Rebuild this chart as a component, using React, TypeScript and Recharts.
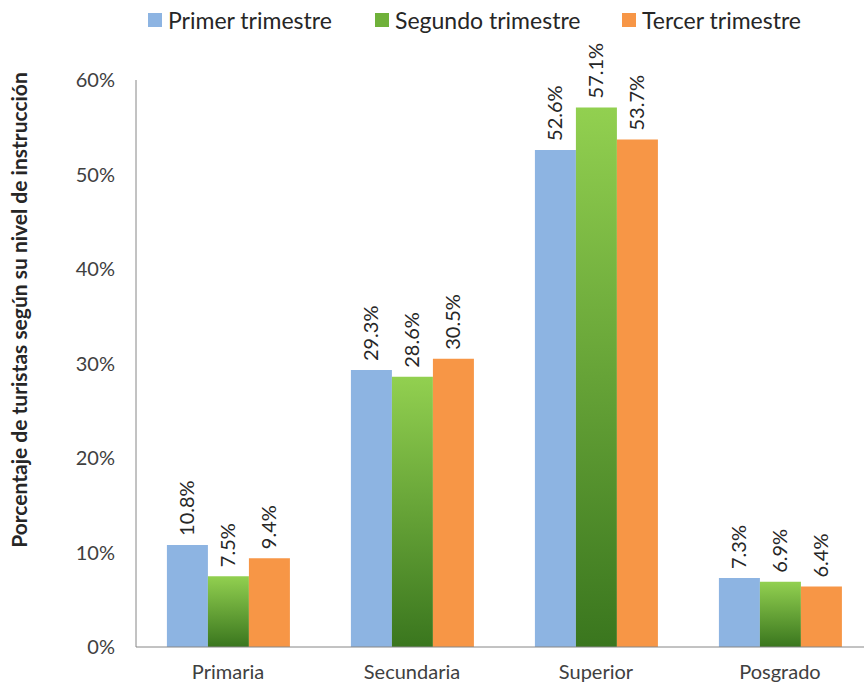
import { Bar, BarChart, XAxis, YAxis, LabelList } from "recharts";

const categories = ["Primaria", "Secundaria", "Superior", "Posgrado"];
const primer = [10.8, 29.3, 52.6, 7.3];
const segundo = [7.5, 28.6, 57.1, 6.9];
const tercer = [9.4, 30.5, 53.7, 6.4];
const yTicks = [0, 10, 20, 30, 40, 50, 60];

const series = [
  { key: "primer", name: "Primer trimestre", color: "#8DB4E2", swatch: "#8DB4E2" },
  { key: "segundo", name: "Segundo trimestre", color: "url(#greenGrad)", swatch: "#6FB13A" },
  { key: "tercer", name: "Tercer trimestre", color: "#F79646", swatch: "#F79646" },
];

// left edge of each legend entry
const legendLeft = [148, 375, 622];

const data = categories.map((c, i) => ({
  category: c,
  primer: primer[i],
  segundo: segundo[i],
  tercer: tercer[i],
}));

const FONT = "Lato, 'Open Sans', sans-serif";

function BarLabel(props: any) {
  const { x, y, width, value } = props;
  const cx = x + width / 2 + 7;
  const cy = y - 9;
  return (
    <text
      x={cx}
      y={cy}
      transform={`rotate(-90, ${cx}, ${cy})`}
      textAnchor="start"
      fontSize={20}
      fontFamily={FONT}
      fill="#262626"
    >
      {`${value.toFixed(1)}%`}
    </text>
  );
}

// legend drawn as plain html above the chart
function LegendBox() {
  return (
    <>
      {series.map((s, i) => (
        <div
          key={s.key}
          style={{
            position: "absolute",
            top: 4,
            left: legendLeft[i],
            display: "flex",
            alignItems: "center",
            gap: 6,
            fontFamily: FONT,
            fontSize: 23,
            color: "#262626",
            lineHeight: "32px",
            whiteSpace: "nowrap",
            zIndex: 2,
          }}
        >
          <span style={{ width: 14, height: 14, background: s.swatch, display: "inline-block" }} />
          <span>{s.name}</span>
        </div>
      ))}
    </>
  );
}

function AxisTitle() {
  return (
    <text
      x={18}
      y={310}
      transform="rotate(-90, 18, 310)"
      textAnchor="middle"
      dominantBaseline="central"
      fontSize={21}
      fontWeight="bold"
      fontFamily={FONT}
      fill="#262626"
    >
      Porcentaje de turistas según su nivel de instrucción
    </text>
  );
}

export default function App() {
  return (
    <div
      style={{
        position: "fixed",
        left: 0,
        top: 0,
        width: 864,
        height: 692,
        background: "#fff",
        overflow: "hidden",
      }}
    >
      <LegendBox />
      <BarChart
        width={880}
        height={692}
        data={data}
        margin={{ top: 80, right: 8, left: 0, bottom: 0 }}
        barCategoryGap="16.8%"
        barGap={0}
      >
        <defs>
          <linearGradient id="greenGrad" x1="0" y1="0" x2="0" y2="1">
            <stop offset="0%" stopColor="#92D050" />
            <stop offset="100%" stopColor="#3A761E" />
          </linearGradient>
        </defs>
        <XAxis
          dataKey="category"
          height={45}
          tickLine={false}
          axisLine={{ stroke: "#868686" }}
          tick={{ fill: "#404040", fontSize: 20, fontFamily: FONT }}
          tickMargin={12}
        />
        <YAxis
          width={136}
          domain={[0, 60]}
          ticks={yTicks}
          tickFormatter={(v) => `${v}%`}
          tickLine={false}
          axisLine={{ stroke: "#868686" }}
          tick={{ fill: "#404040", fontSize: 20, fontFamily: FONT }}
          tickMargin={15}
          label={<AxisTitle />}
        />
        {series.map((s) => (
          <Bar key={s.key} dataKey={s.key} name={s.name} fill={s.color} isAnimationActive={false}>
            <LabelList dataKey={s.key} content={<BarLabel />} />
          </Bar>
        ))}
      </BarChart>
    </div>
  );
}
